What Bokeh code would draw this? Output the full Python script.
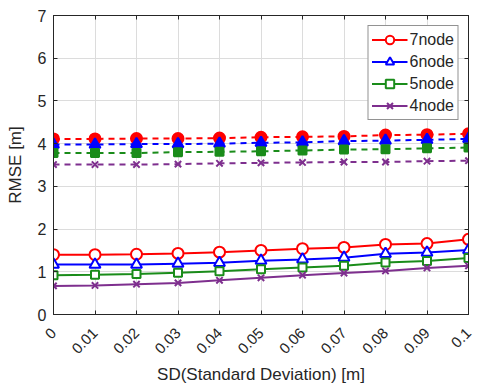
import math
from bokeh.plotting import figure
from bokeh.models import LinearAxis, Legend, LegendItem, FixedTicker, Range1d, CustomJSTickFormatter
from bokeh.embed import file_html
from bokeh.resources import INLINE

sd = [0, 0.01, 0.02, 0.03, 0.04, 0.05, 0.06, 0.07, 0.08, 0.09, 0.1]
x_tick_labels = ["0", "0.01", "0.02", "0.03", "0.04", "0.05", "0.06", "0.07", "0.08", "0.09", "0.1"]
y_ticks = [0, 1, 2, 3, 4, 5, 6, 7]

solid_7 = [1.40, 1.40, 1.41, 1.43, 1.46, 1.50, 1.54, 1.57, 1.64, 1.66, 1.76]
solid_6 = [1.17, 1.17, 1.17, 1.19, 1.21, 1.26, 1.29, 1.33, 1.42, 1.45, 1.51]
solid_5 = [0.92, 0.93, 0.95, 0.98, 1.01, 1.06, 1.10, 1.14, 1.22, 1.25, 1.32]
solid_4 = [0.67, 0.68, 0.71, 0.74, 0.80, 0.86, 0.92, 0.97, 1.02, 1.09, 1.14]

dash_7 = [4.11, 4.11, 4.12, 4.12, 4.13, 4.15, 4.16, 4.17, 4.20, 4.21, 4.23]
dash_6 = [3.98, 3.98, 3.99, 3.99, 4.00, 4.02, 4.03, 4.06, 4.07, 4.09, 4.11]
dash_5 = [3.78, 3.78, 3.78, 3.80, 3.81, 3.82, 3.84, 3.86, 3.87, 3.89, 3.91]
dash_4 = [3.51, 3.51, 3.51, 3.52, 3.54, 3.55, 3.56, 3.57, 3.57, 3.59, 3.60]

names = ["7node", "6node", "5node", "4node"]
colors = ["#FF0000", "#0000FF", "#1A8C1A", "#7E2F8E"]
markers = ["circle", "triangle", "square", "x"]
msizes = [11, 11, 8, 9]

FONT = "Liberation Sans"
TXT = "#262626"

p = figure(frame_width=415, frame_height=299, output_backend="svg", toolbar_location=None,
           x_range=Range1d(0, 0.1), y_range=Range1d(0, 7),
           min_border_left=53, min_border_right=19, min_border_top=15, min_border_bottom=72)
p.background_fill_color = "white"
p.outline_line_color = "#262626"
p.outline_line_width = 1

p.xaxis.ticker = FixedTicker(ticks=sd)
p.xaxis.major_label_overrides = {v: s for v, s in zip(sd, x_tick_labels)}
p.xaxis.major_label_orientation = math.pi / 4
p.yaxis.ticker = FixedTicker(ticks=y_ticks)
for ax in [p.xaxis[0], p.yaxis[0]]:
    ax.major_tick_in = 4
    ax.major_tick_out = 0
    ax.minor_tick_line_color = None
    ax.axis_line_color = "#262626"
    ax.major_tick_line_color = "#262626"
    ax.major_label_text_font = FONT
    ax.major_label_text_font_size = "16px"
    ax.major_label_text_color = TXT
    ax.axis_label_text_font = FONT
    ax.axis_label_text_font_size = "17px"
    ax.axis_label_text_font_style = "normal"
    ax.axis_label_text_color = TXT
p.xaxis.major_label_text_font_size = "15px"
p.xaxis.axis_label = "SD(Standard Deviation) [m]"
p.yaxis.axis_label = "RMSE [m]"
p.xaxis.major_label_standoff = 16
p.yaxis.major_label_standoff = 7
p.xaxis.axis_label_standoff = 4
p.yaxis.axis_label_standoff = 10

blank = CustomJSTickFormatter(code="return ''")
for loc, tk in [("right", FixedTicker(ticks=y_ticks)), ("above", FixedTicker(ticks=sd))]:
    ax = LinearAxis(ticker=tk, formatter=blank, major_tick_in=4, major_tick_out=0,
                    minor_tick_line_color=None, axis_line_color="#262626",
                    major_tick_line_color="#262626", major_label_standoff=0)
    p.add_layout(ax, loc)

p.grid.grid_line_color = "#DCDCDC"
p.grid.grid_line_width = 1

items = []
solids = [solid_7, solid_6, solid_5, solid_4]
dashes = [dash_7, dash_6, dash_5, dash_4]
for name, c, m, ms, ys, yd in zip(names, colors, markers, msizes, solids, dashes):
    p.line(sd, yd, line_color=c, line_width=2, line_dash="6 5")
    p.scatter(sd, yd, marker=m, size=ms, line_color=c, fill_color=c, line_width=2)
    l = p.line(sd, ys, line_color=c, line_width=2)
    s = p.scatter(sd, ys, marker=m, size=ms, line_color=c, fill_color="white", line_width=2)
    items.append(LegendItem(label=name, renderers=[l, s]))

leg = Legend(items=items, location="top_right")
leg.label_text_font = FONT
leg.label_text_font_size = "16px"
leg.label_text_color = TXT
leg.border_line_color = "#262626"
leg.border_line_width = 1
leg.background_fill_color = "white"
leg.background_fill_alpha = 1
leg.glyph_width = 36
leg.glyph_height = 21
leg.label_height = 21
leg.spacing = 1
leg.padding = 3
leg.margin = 10
leg.label_standoff = 2
p.add_layout(leg)

open("out.html", "w").write(file_html(p, INLINE))
